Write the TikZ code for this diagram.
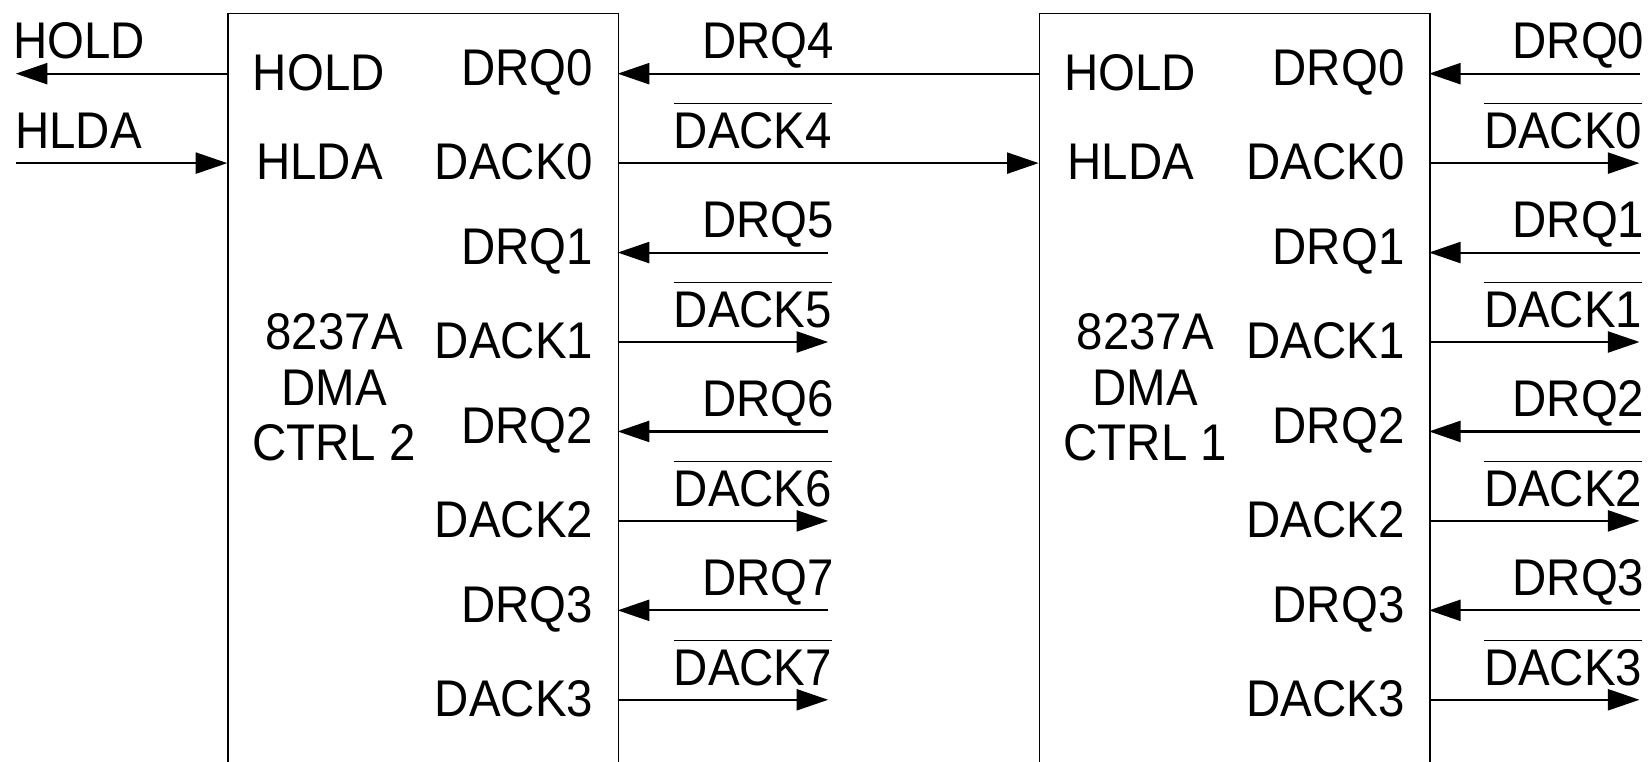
\documentclass[tikz,border=0pt]{standalone}
\usepackage{fontspec}
\setmainfont{Liberation Sans}[FakeStretch=0.92]
\usetikzlibrary{arrows.meta}

\newcommand{\ovl}[1]{$\overline{\rule{0pt}{20pt}\mbox{#1}}$}

\tikzset{
  box/.style={draw,line width=0.8pt,inner sep=0pt,minimum width=185.5pt,minimum height=364pt},
  txt/.style={inner sep=0pt,font=\fontsize{24.5}{26.5}\selectfont},
  sig/.style={line width=1pt,-{Triangle[length=15pt,width=10pt]}},
}

\begin{document}
\begin{tikzpicture}[x=0.5pt,y=-0.5pt]
      \useasboundingbox (0,0) rectangle (1568,724);
      % both controllers, the bottom edge lies below the page
      \foreach \c/\l/\r in {2/216/587,1/987/1358} {
        \node[box,anchor=north west] (dma\c) at (\l,12) {};
        \node[txt,anchor=west] (hold\c) at (\l+24,69) {HOLD};
        \node[txt,anchor=west] (hlda\c) at (\l+27,154) {HLDA};
        \node[txt,align=center] (name\c) at ({(\l+\r)/2-84},368) {8237A\\DMA\\CTRL \c};
        \coordinate (lh\c) at (\l,70);
        \coordinate (la\c) at (\l,155);
        \foreach \n in {0,...,3} {
          \node[txt,anchor=east] (drq\c\n) at (\r-23,69+170*\n) {DRQ\n};
          \node[txt,anchor=east] (dack\c\n) at (\r-23,154+170*\n) {DACK\n};
          \coordinate (rq\c\n) at (\r,70+170*\n);
          \coordinate (ra\c\n) at (\r,155+170*\n);
        }
      }
      % HOLD / HLDA of controller 2
      \coordinate (holdout) at (15,70);
      \coordinate (hldain) at (15,155);
      \draw[sig] (lh2) -- (holdout);
      \draw[sig] (hldain) -- (la2);
      \node[txt,anchor=base west] (holdlbl) at (12,56) {HOLD};
      \node[txt,anchor=base west] (hldalbl) at (14,141) {HLDA};
      % cascade: controller 1 on channel 0 of controller 2
      \draw[sig] (lh1) -- (rq20);
      \draw[sig] (ra20) -- (la1);
      \node[txt,anchor=base east] (drq4) at (793,56) {DRQ4};
      \node[txt,anchor=base east] (dack4) at (791,141) {\ovl{DACK4}};
      \foreach \n/\m in {1/5,2/6,3/7} {
        \coordinate (fq\n) at (787,70+170*\n);
        \coordinate (fa\n) at (787,155+170*\n);
        \draw[sig] (fq\n) -- (rq2\n);
        \draw[sig] (ra2\n) -- (fa\n);
        \node[txt,anchor=base east] (drq\m) at (793,56+170*\n) {DRQ\m};
        \node[txt,anchor=base east] (dack\m) at (791,141+170*\n) {\ovl{DACK\m}};
      }
      % channels of controller 1
      \foreach \n in {0,...,3} {
        \coordinate (gq\n) at (1558,70+170*\n);
        \coordinate (ga\n) at (1558,155+170*\n);
        \draw[sig] (gq\n) -- (rq1\n);
        \draw[sig] (ra1\n) -- (ga\n);
        \node[txt,anchor=base east] (xdrq\n) at (1563,56+170*\n) {DRQ\n};
        \node[txt,anchor=base east] (xdack\n) at (1561,141+170*\n) {\ovl{DACK\n}};
      }
\end{tikzpicture}
\end{document}
